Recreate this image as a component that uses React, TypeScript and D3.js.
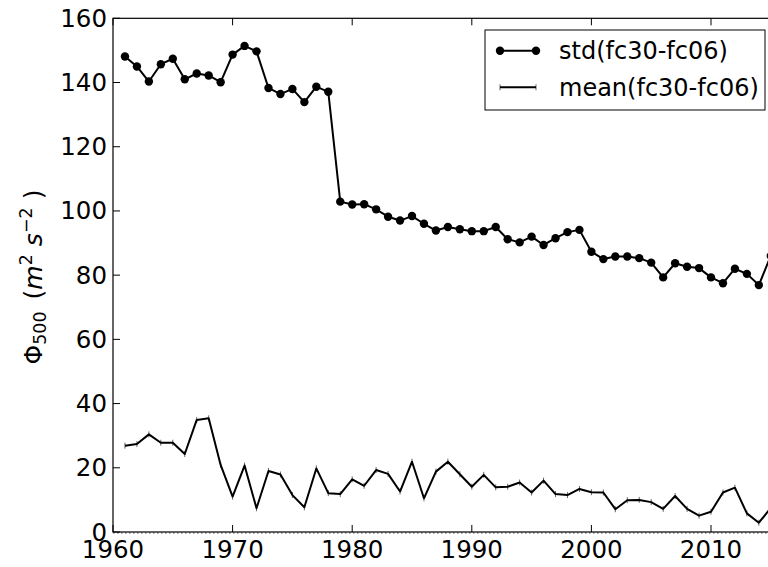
import React from "react";
import * as d3 from "d3";

// years 1961..2015
const years = d3.range(1961, 2016);

const stdValues = [
  148.1, 145.0, 140.3, 145.7, 147.4, 141.0, 142.8, 142.2, 140.1, 148.7,
  151.4, 149.7, 138.3, 136.4, 138.0, 133.9, 138.7, 137.1, 102.9, 102.0,
  102.1, 100.5, 98.2, 97.0, 98.4, 96.0, 93.9, 95.0, 94.3, 93.7,
  93.7, 95.0, 91.2, 90.2, 92.0, 89.4, 91.5, 93.4, 94.1, 87.3,
  85.0, 85.8, 85.8, 85.3, 83.9, 79.3, 83.7, 82.6, 82.2, 79.3,
  77.5, 82.0, 80.4, 76.9, 86.0,
];

const meanValues = [
  26.9, 27.4, 30.4, 27.8, 27.8, 24.3, 34.9, 35.4, 20.9, 11.0,
  20.7, 7.4, 19.0, 17.9, 11.5, 7.7, 19.8, 12.1, 11.8, 16.4,
  14.4, 19.3, 18.1, 12.6, 21.9, 10.5, 18.8, 21.9, 18.0, 14.1,
  17.8, 13.9, 14.1, 15.4, 12.3, 16.0, 11.8, 11.5, 13.4, 12.4,
  12.3, 7.1, 9.9, 10.0, 9.3, 7.2, 11.2, 7.2, 5.1, 6.3,
  12.3, 13.8, 5.8, 2.9, 7.5,
];

const xTicks = [1960, 1970, 1980, 1990, 2000, 2010];
const yTicks = [0, 20, 40, 60, 80, 100, 120, 140, 160];
const legendLabels = ["std(fc30-fc06)", "mean(fc30-fc06)"];

const W = 768;
const H = 567;
const FONT = "DejaVu Sans";

export default function App() {
  const x = d3.scaleLinear().domain([1960, 2015]).range([113, 770.8]);
  const y = d3.scaleLinear().domain([0, 160]).range([532, 18.3]);

  const line = d3
    .line<number>()
    .x((_, i) => x(years[i]))
    .y((d) => y(d));

  const [x0, x1] = x.range();
  const [y0, y1] = y.range();

  // legend box
  const lg = { left: 485, right: 765, top: 30, bottom: 110 };
  const rowY = [50.7, 87.3];

  return (
    <svg
      width={W}
      height={H}
      style={{ position: "absolute", left: 0, top: 0, background: "#fff" }}
      fontFamily={FONT}
    >
      {/* dotted zero line under the bottom spine */}
      <line
        x1={x0}
        x2={x1}
        y1={y0 + 1}
        y2={y0 + 1}
        stroke="#555"
        strokeWidth={1}
        strokeDasharray="1.5,2.5"
      />

      {/* series */}
      <path d={line(meanValues) || ""} fill="none" stroke="#000" strokeWidth={2} strokeLinejoin="round" />
      {meanValues.map((v, i) => (
        <line
          key={"m" + i}
          x1={x(years[i])}
          x2={x(years[i])}
          y1={y(v) - 3}
          y2={y(v) + 3}
          stroke="#000"
          strokeWidth={1}
          opacity={0.6}
        />
      ))}
      <path d={line(stdValues) || ""} fill="none" stroke="#000" strokeWidth={2} strokeLinejoin="round" />
      {stdValues.map((v, i) => (
        <circle key={"s" + i} cx={x(years[i])} cy={y(v)} r={4.2} fill="#000" />
      ))}

      {/* spines */}
      <rect x={x0} y={y1} width={x1 - x0} height={y0 - y1} fill="none" stroke="#000" strokeWidth={1.2} />

      {/* x ticks */}
      {xTicks.map((t) => (
        <g key={"xt" + t}>
          <line x1={x(t)} x2={x(t)} y1={y0} y2={y0 - 7} stroke="#000" strokeWidth={1} />
          <line x1={x(t)} x2={x(t)} y1={y1} y2={y1 + 7} stroke="#000" strokeWidth={1} />
          <text x={x(t)} y={558} fontSize={24.5} textAnchor="middle" fill="#000">
            {t}
          </text>
        </g>
      ))}

      {/* y ticks */}
      {yTicks.map((t) => (
        <g key={"yt" + t}>
          <line x1={x0} x2={x0 + 7} y1={y(t)} y2={y(t)} stroke="#000" strokeWidth={1} />
          <text x={107} y={y(t) + 8.5} fontSize={24.5} textAnchor="end" fill="#000">
            {t}
          </text>
        </g>
      ))}

      {/* y label */}
      <text transform="translate(42,277) rotate(-90)" textAnchor="middle" fontSize={25} fill="#000">
        <tspan>Φ</tspan>
        <tspan fontSize={17.5} dy={4}>500</tspan>
        <tspan dy={-4} dx={12}>(</tspan>
        <tspan fontStyle="italic">m</tspan>
        <tspan fontSize={17.5} dy={-10}>2</tspan>
        <tspan dy={10} dx={8} fontStyle="italic">s</tspan>
        <tspan fontSize={17.5} dy={-10}>−2</tspan>
        <tspan dy={10} dx={8}>)</tspan>
      </text>

      {/* legend */}
      <rect
        x={lg.left}
        y={lg.top}
        width={lg.right - lg.left}
        height={lg.bottom - lg.top}
        fill="#fff"
        stroke="#000"
        strokeWidth={1}
      />
      <line x1={500} x2={536} y1={rowY[0]} y2={rowY[0]} stroke="#000" strokeWidth={2} />
      <circle cx={500} cy={rowY[0]} r={4.2} fill="#000" />
      <circle cx={536} cy={rowY[0]} r={4.2} fill="#000" />
      <line x1={500} x2={536} y1={rowY[1]} y2={rowY[1]} stroke="#000" strokeWidth={2} />
      <line x1={500} x2={500} y1={rowY[1] - 3} y2={rowY[1] + 3} stroke="#000" strokeWidth={1} opacity={0.6} />
      <line x1={536} x2={536} y1={rowY[1] - 3} y2={rowY[1] + 3} stroke="#000" strokeWidth={1} opacity={0.6} />
      {legendLabels.map((l, i) => (
        <text key={l} x={559} y={rowY[i] + 8.5} fontSize={24} fill="#000">
          {l}
        </text>
      ))}
    </svg>
  );
}
